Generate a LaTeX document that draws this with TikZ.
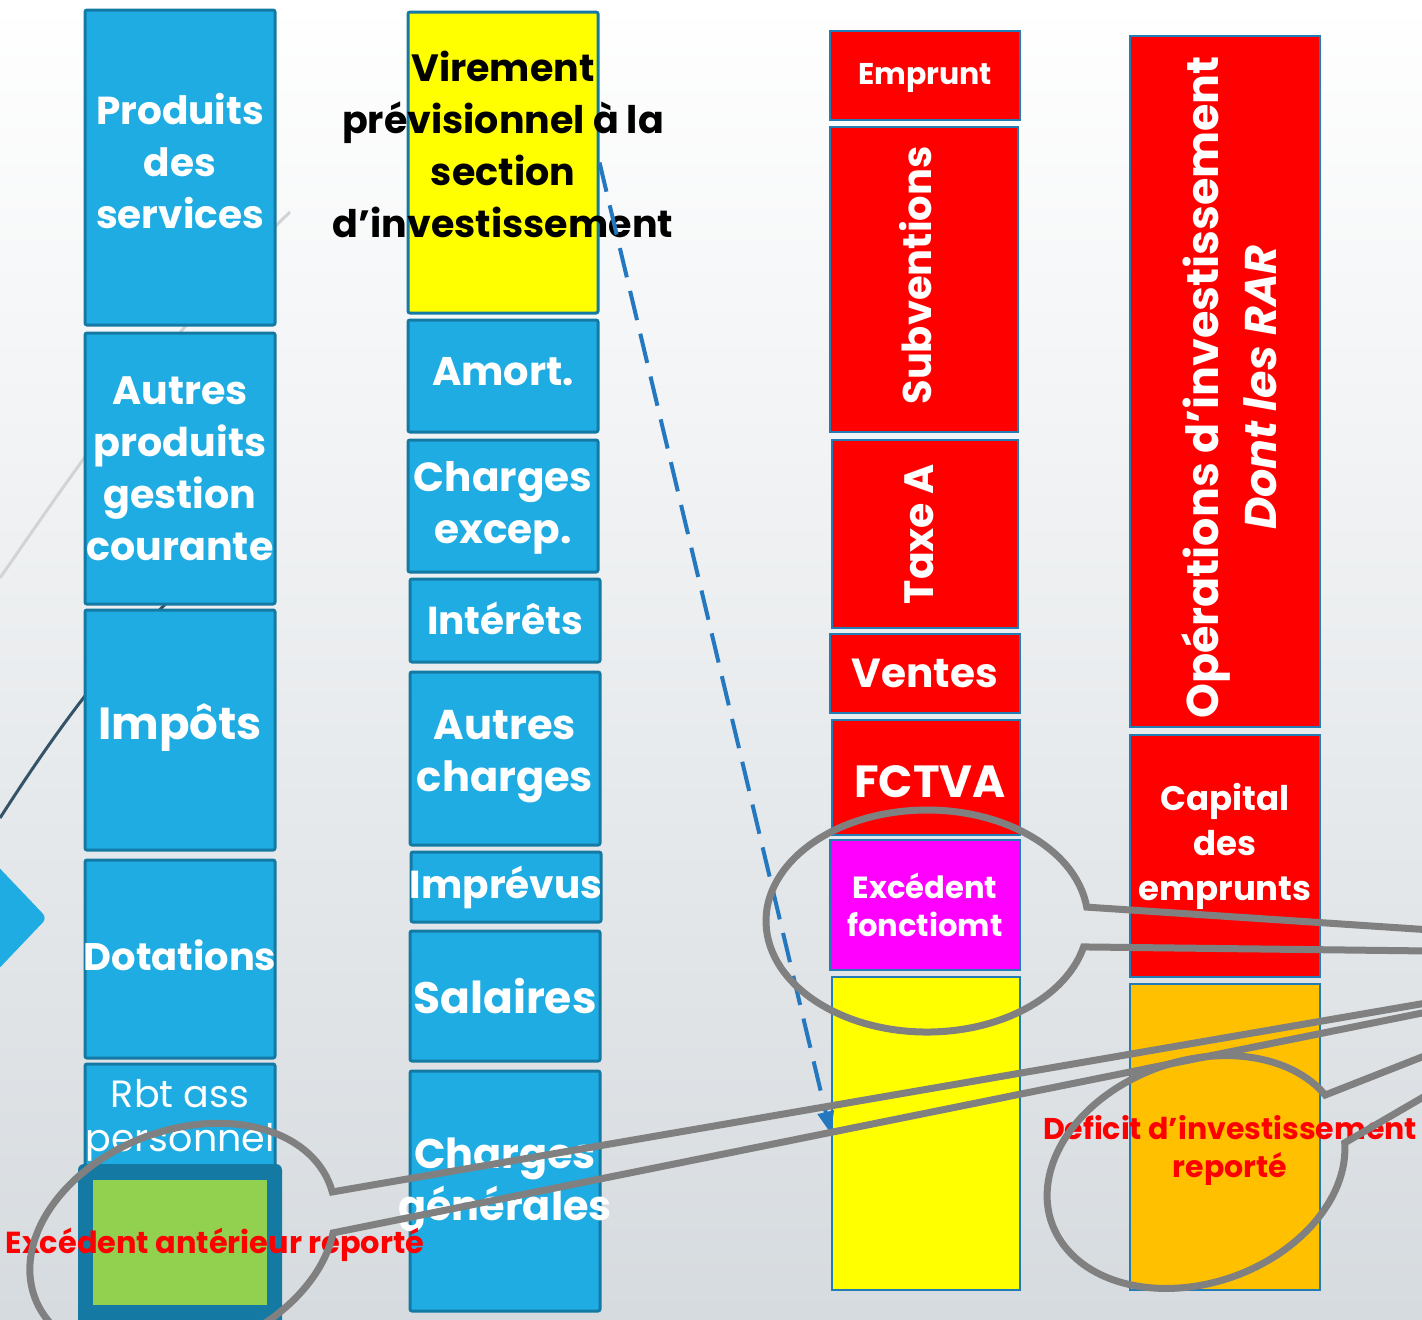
\documentclass[tikz,border=0pt]{standalone}
\usepackage{fontspec}
\setmainfont{Poppins}
\usepackage{tikz}
\usetikzlibrary{arrows.meta, positioning, fit}

\definecolor{bleu}{RGB}{30,172,226}
\definecolor{bleufonce}{RGB}{20,122,164}
\definecolor{bord}{RGB}{35,125,180}
\definecolor{rouge}{RGB}{255,0,0}
\definecolor{jaune}{RGB}{255,255,0}
\definecolor{rose}{RGB}{255,0,255}
\definecolor{ambre}{RGB}{255,192,0}
\definecolor{vert}{RGB}{146,208,80}
\definecolor{gris}{RGB}{128,128,128}
\definecolor{fond}{RGB}{214,219,223}
\definecolor{fleche}{RGB}{36,120,192}
\definecolor{ardoise}{RGB}{52,82,104}
\newcommand{\corps}[2]{\fontsize{#1}{#2}\selectfont}

\tikzset{
  bloc/.style={draw=bleufonce, line width=1.5pt, fill=bleu, inner sep=0pt, rounded corners=1pt},
  rbloc/.style={draw=bord, line width=1.2pt, fill=rouge, inner sep=0pt},
  etiq/.style={text=white, align=center, inner sep=0pt},
  loupe/.style={draw=gris, line width=3.5pt},
  pointille/.style={draw=fleche, line width=2pt, dash pattern=on 15pt off 7pt, -{Triangle[length=11pt,width=8pt]}},
}

\begin{document}
\begin{tikzpicture}[x=0.5pt, y=-0.5pt]
	% fond
	\useasboundingbox (0,0) rectangle (1422,1319);
	\shade[top color=white, bottom color=fond] (0,0) rectangle (1422,1319);
	
	% traits du decor
	\draw[gris!35, line width=1.5pt] (0,578) .. controls (80,462) and (180,318) .. (290,212);
	\draw[ardoise, line width=1.5pt] (0,818) .. controls (50,740) and (110,655) .. (180,590);
	\fill[bleu, rounded corners=3pt] (-12,856) -- (47,918) -- (-12,980) -- cycle;
	
	% recettes de fonctionnement
	\node[bloc, fit={(85,10) (275,325)}] (prod) {};
	\node[bloc, fit={(85,333) (275,604)}] (autres) {};
	\node[bloc, fit={(85,610) (275,850)}] (impots) {};
	\node[bloc, fit={(85,860) (275,1058)}] (dot) {};
	\node[bloc, fit={(85,1064) (275,1190)}] (rbt) {};
	\node[etiq, font=\bfseries\corps{19.5}{26}] at ([yshift=3pt]prod.center) {Produits\\des\\services};
	\node[etiq, font=\bfseries\corps{19.8}{26}] at (autres) {Autres\\produits\\gestion\\courante};
	\node[etiq, font=\bfseries\corps{22.5}{28}] at ([yshift=1pt]impots.center) {Impôts};
	\node[etiq, font=\bfseries\corps{19.2}{26}] at ([yshift=2pt]dot.center) {Dotations};
	\node[etiq, font=\corps{19}{22}] at (180,1120) {Rbt ass\\personnel};
	\node[fill=bleufonce, rounded corners=3pt, inner sep=0pt, fit={(78,1164) (282,1335)}] (anter) {};
	\node[fill=vert, inner sep=0pt, fit={(93,1180) (267,1305)}] (exc) {};
	
	% depenses de fonctionnement
	\node[bloc, fill=jaune, fit={(408,12) (598,313)}] (vir) {};
	\node[bloc, fit={(408,320) (598,432)}] (amort) {};
	\node[bloc, fit={(408,440) (598,572)}] (excep) {};
	\node[bloc, fit={(410,579) (600,662)}] (inter) {};
	\node[bloc, fit={(410,672) (600,845)}] (autch) {};
	\node[bloc, fit={(411,852) (601,922)}] (impr) {};
	\node[bloc, fit={(410,931) (600,1061)}] (sal) {};
	\node[bloc, fit={(410,1071) (600,1311)}] (chgen) {};
	\node[align=center, inner sep=0pt, font=\bfseries\corps{19}{26}] at ([yshift=9pt]vir.center) {Virement\\prévisionnel à la\\section\\d’investissement};
	\node[etiq, font=\bfseries\corps{20}{26}] at ([yshift=2pt]amort.center) {Amort.};
	\node[etiq, font=\bfseries\corps{20.3}{26}] at ([yshift=-1pt]excep.center) {Charges\\excep.};
	\node[etiq, font=\bfseries\corps{19.5}{26}] at ([yshift=1pt]inter.center) {Intérêts};
	\node[etiq, font=\bfseries\corps{20.8}{26}] at ([yshift=1pt]autch.center) {Autres\\charges};
	\node[etiq, font=\bfseries\corps{19.5}{26}] at (impr) {Imprévus};
	\node[etiq, font=\bfseries\corps{22}{28}] at (sal) {Salaires};
	\node[etiq, font=\bfseries\corps{20.7}{26}] at ([yshift=3pt]chgen.center) {Charges\\générales};
	
	% recettes d'investissement
	\node[rbloc, fit={(830,31) (1020,120)}] (empr) {};
	\node[rbloc, fit={(830,127) (1018,432)}] (subv) {};
	\node[rbloc, fit={(832,440) (1018,628)}] (taxe) {};
	\node[rbloc, fit={(830,634) (1020,713)}] (ventes) {};
	\node[rbloc, fit={(832,720) (1020,835)}] (fctva) {};
	\node[rbloc, fill=rose, fit={(830,840) (1020,970)}] (excf) {};
	\node[rbloc, fill=jaune, fit={(832,977) (1020,1290)}] (autof) {};
	\node[etiq, font=\bfseries\corps{15}{19}] at ([yshift=-1pt]empr.center) {Emprunt};
	\node[etiq, rotate=90, font=\bfseries\corps{20}{26}] at ([xshift=-4pt, yshift=2pt]subv.center) {Subventions};
	\node[etiq, rotate=90, font=\bfseries\corps{20.5}{26}] at ([xshift=-3pt]taxe.center) {Taxe A};
	\node[etiq, font=\bfseries\corps{20.3}{26}] at (ventes) {Ventes};
	\node[etiq, font=\bfseries\corps{22.5}{28}] at ([xshift=2pt, yshift=-2pt]fctva.center) {FCTVA};
	\node[etiq, font=\bfseries\corps{15.3}{19}] at (excf) {Excédent\\fonctiomt};
	
	% depenses d'investissement
	\node[rbloc, fit={(1130,36) (1320,727)}] (oper) {};
	\node[rbloc, fit={(1130,735) (1320,977)}] (capital) {};
	\node[rbloc, fill=ambre, fit={(1130,984) (1320,1290)}] (deficit) {};
	\node[etiq, rotate=90, font=\bfseries\corps{22.2}{29}] at ([xshift=2pt, yshift=-3pt]oper.center) {Opérations d’investissement\\\textit{Dont les RAR}};
	\node[etiq, font=\bfseries\corps{17}{22.5}] at ([yshift=5pt]capital.center) {Capital\\des\\emprunts};
	
	% textes rouges
	\node[text=rouge, inner sep=0pt, font=\bfseries\corps{15.2}{19}] (exant) at (215,1245) {Excédent antérieur reporté};
	\node[text=rouge, align=center, inner sep=0pt, font=\bfseries\corps{15}{19}] (deftxt) at (1230,1150) {Deficit d’investissement\\reporté};
	
	% virement vers l'investissement
	\draw[pointille] (vir.east) -- (autof.west);
	
	% loupes
	\coordinate (l1h) at (1432,930);
	\coordinate (l1b) at (1432,951);
	\begin{scope}[shift={(927,921)}]
		\draw[loupe] (l1h) -- (-7.2:161 and 111) arc[start angle=-7.2, end angle=-346.5, x radius=161, y radius=111] -- (l1b);
	\end{scope}
	\coordinate (l2h) at (1432,1002);
	\coordinate (l2b) at (1432,1011);
	\begin{scope}[shift={(182.5,1241.5)}, rotate=21.2]
		\draw[loupe] (l2h) -- (4.1:158 and 111) arc[start angle=4.1, end angle=-335.3, x radius=158, y radius=111] -- (l2b);
	\end{scope}
	\coordinate (l3h) at (1432,1053);
	\coordinate (l3b) at (1432,1092);
	\begin{scope}[shift={(1196,1172)}, rotate=19.5]
		\draw[loupe] (l3h) -- (-15.4:153 and 111) arc[start angle=-15.4, end angle=-348.5, x radius=153, y radius=111] -- (l3b);
	\end{scope}
\end{tikzpicture}
\end{document}
